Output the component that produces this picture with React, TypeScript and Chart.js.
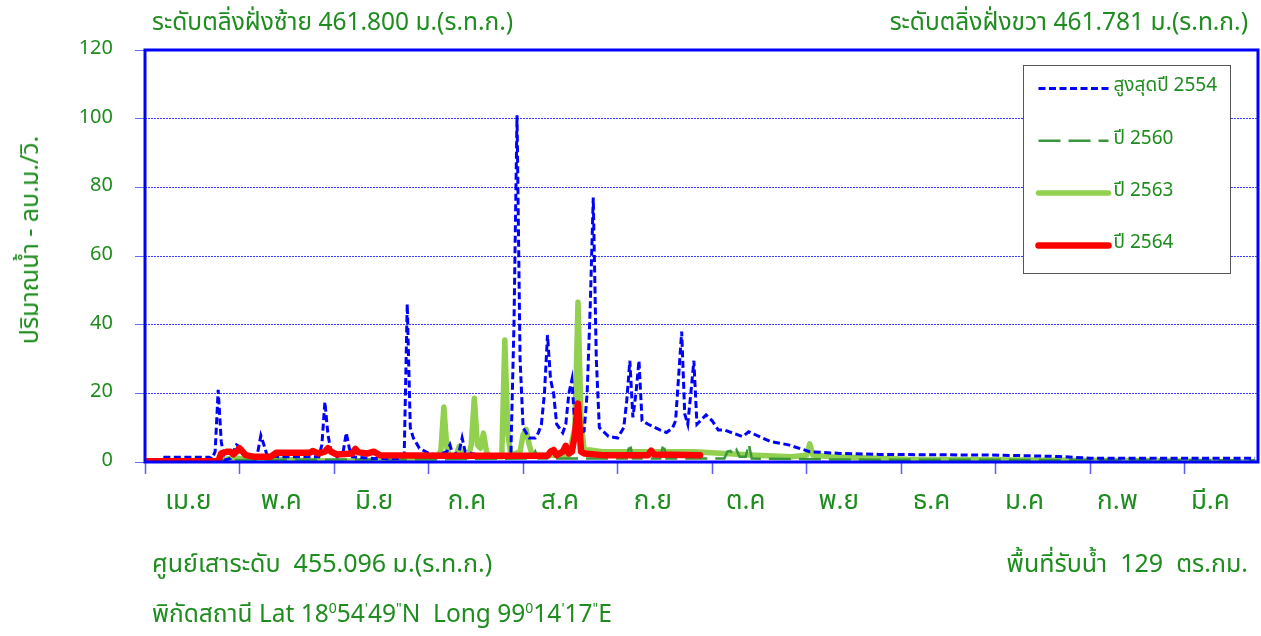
import React, { useEffect, useRef } from "react";
import { Chart, registerables } from "chart.js";

Chart.register(...registerables);

// ---------- data ----------
const monthLabels = ["เม.ย", "พ.ค", "มิ.ย", "ก.ค", "ส.ค", "ก.ย", "ต.ค", "พ.ย", "ธ.ค", "ม.ค", "ก.พ", "มี.ค"];
const yTickValues = [0, 20, 40, 60, 80, 100, 120];
const seriesLabels = ["สูงสุดปี 2554", "ปี 2560", "ปี 2563", "ปี 2564"];

// day index from 1 April (0 .. 364), flow in m3/s
const max2554Day = [0, 5, 6, 21, 22, 23, 24, 25, 26, 28, 29, 30, 31, 32, 34, 36, 37, 38, 39, 40, 44, 50, 57, 58, 59, 60, 61, 63, 65, 66, 67, 68, 75, 84, 85, 86, 87, 88, 90, 93, 96, 99, 100, 101, 103, 104, 105, 107, 110, 119, 120, 121, 122, 123, 124, 126, 128, 129, 130, 131, 132, 133, 134, 135, 137, 138, 139, 140, 141, 142, 144, 145, 146, 147, 148, 149, 152, 155, 157, 158, 159, 160, 161, 162, 163, 165, 169, 171, 173, 174, 175, 176, 177, 178, 179, 180, 181, 184, 186, 188, 190, 196, 198, 205, 211, 218, 228, 241, 280, 300, 310, 364];
const max2554Flow = [0, 0, 1.4, 1.4, 1, 3, 21, 6, 0.5, 1, 3, 5, 4.5, 3, 2, 1, 3, 7.7, 5, 2, 1.5, 1.5, 1.5, 5, 17.5, 8, 3, 1.5, 3, 8.5, 4, 1.5, 1, 1, 2, 46, 10, 7, 4, 2.5, 2, 3, 5, 2, 3, 7, 3, 2.5, 2, 2, 3, 40, 101, 30, 10, 7, 7, 8.5, 11, 20, 37, 24, 20, 11, 8.5, 11, 20, 24, 10, 8, 9, 20, 45, 77, 30, 10, 7.5, 7, 10, 18, 29.5, 13, 20, 29.5, 12, 11, 9.3, 8.6, 9.9, 12, 25, 38, 14, 11, 20, 29.5, 11, 13.7, 12, 9.3, 9.3, 7.4, 8.8, 6, 5, 3, 2.5, 2.2, 2, 1.6, 1.1, 1.1];

const y2560Day = [0, 100, 127, 128, 129, 158, 159, 160, 169, 170, 171, 190, 191, 192, 193, 194, 195, 197, 198, 199, 230, 364];
const y2560Flow = [0.5, 0.8, 1, 3, 1, 1, 5.5, 1, 1, 5.5, 1, 1, 3, 3.2, 2, 3.5, 1.5, 1.5, 5.3, 1, 0.7, 0.5];

const y2563Day = [0, 22, 25, 28, 40, 50, 60, 80, 90, 95, 97, 98, 99, 100, 102, 103, 104, 106, 107, 108, 109, 110, 111, 112, 113, 117, 118, 119, 120, 123, 124, 125, 126, 127, 139, 141, 142, 143, 144, 146, 150, 180, 200, 212, 217, 218, 219, 225, 250, 300, 340, 364];
const y2563Flow = [0, 0, 0.5, 1, 1, 0.5, 0.3, 0.3, 0.8, 1, 3, 16, 4, 1.5, 2, 4.5, 2, 1.5, 5, 18.6, 5, 4, 8.4, 3, 1.5, 1.5, 35.5, 8, 2, 3, 8, 9.5, 5, 2, 2, 10, 46.5, 12, 3.5, 3.5, 3, 3, 2, 1.5, 2, 5.3, 2, 1.5, 0.8, 0.5, 0.3, 0];

const y2564Day = [0, 24, 25, 27, 28, 29, 30, 31, 32, 33, 36, 41, 42, 43, 54, 55, 57, 59, 60, 61, 63, 68, 69, 70, 73, 75, 77, 100, 132, 133, 134, 135, 137, 138, 139, 140, 141, 142, 143, 144, 150, 165, 166, 167, 182];
const y2564Flow = [0.2, 0.2, 2.5, 3, 3, 2.2, 3, 4, 3, 2, 1.5, 1.5, 2, 2.7, 2.7, 3.2, 2.5, 3, 4, 3, 2.2, 2.5, 3.8, 2.8, 2.5, 3, 2, 1.8, 1.8, 3, 3.5, 2, 3, 4.7, 2.5, 3, 8, 17, 3, 2.5, 2, 2, 3.3, 2.2, 2];

const daysInYear = 365;
const monthTickStep = 31;
const labelStart = 14.2;
const labelStep = 30.47;

// ---------- styling ----------
const GREEN_TEXT = "#1e8c1e";
const FONT = "Tahoma, 'Leelawadee UI', 'Noto Sans Thai', 'Noto Sans', 'DejaVu Sans', sans-serif";

const toPoints = (days: number[], vals: number[]) => days.map((d, i) => ({ x: d, y: vals[i] }));

const framePlugin = {
  id: "frameAndLegend",
  afterDraw(chart: any) {
    const { ctx, chartArea } = chart;
    ctx.save();
    // plot frame
    ctx.strokeStyle = "#0000ff";
    ctx.lineWidth = 3;
    ctx.setLineDash([]);
    ctx.strokeRect(chartArea.left, chartArea.top, chartArea.right - chartArea.left, chartArea.bottom - chartArea.top);

    // legend box
    const bw = 207;
    const bh = 208;
    const bx = Math.round(chartArea.right - 235) + 0.5;
    const by = Math.round(chartArea.top + 15) + 0.5;
    ctx.fillStyle = "#ffffff";
    ctx.fillRect(bx, by, bw, bh);
    ctx.strokeStyle = "#555555";
    ctx.lineWidth = 1;
    ctx.strokeRect(bx, by, bw, bh);

    chart.data.datasets.forEach((ds: any, i: number) => {
      const y = by + 23 + i * 52.3;
      ctx.beginPath();
      ctx.setLineDash(ds.borderDash || []);
      ctx.lineCap = ds.borderCapStyle || "butt";
      ctx.lineWidth = ds.borderWidth;
      ctx.strokeStyle = ds.borderColor;
      ctx.moveTo(bx + 15, y);
      ctx.lineTo(bx + 85, y);
      ctx.stroke();
      ctx.setLineDash([]);
      ctx.fillStyle = GREEN_TEXT;
      ctx.font = `19px ${FONT}`;
      ctx.textBaseline = "middle";
      ctx.textAlign = "left";
      ctx.fillText(ds.label, bx + 90, y - 1);
    });
    ctx.restore();
  },
};

export default function App() {
  const canvasRef = useRef<HTMLCanvasElement | null>(null);

  useEffect(() => {
    document.body.style.margin = "0";
    const canvas = canvasRef.current;
    if (!canvas) return;

    const boundaryTicks = Array.from({ length: 12 }, (_, i) => i * monthTickStep);
    const labelTicks = monthLabels.map((_, i) => labelStart + i * labelStep);
    const labelMap = new Map<number, string>();
    labelTicks.forEach((v, i) => labelMap.set(v, monthLabels[i]));
    const boundarySet = new Set<number>(boundaryTicks);

    const chart = new Chart(canvas, {
      type: "line",
      data: {
        datasets: [
          {
            label: seriesLabels[0],
            data: toPoints(max2554Day, max2554Flow),
            borderColor: "#0000ff",
            borderWidth: 3,
            borderDash: [7, 3.5],
            borderCapStyle: "butt",
            order: 1,
          },
          {
            label: seriesLabels[1],
            data: toPoints(y2560Day, y2560Flow),
            borderColor: "#3a963a",
            borderWidth: 2.5,
            borderDash: [22, 8],
            borderCapStyle: "butt",
            order: 2,
          },
          {
            label: seriesLabels[2],
            data: toPoints(y2563Day, y2563Flow),
            borderColor: "#92d050",
            borderWidth: 5.5,
            borderCapStyle: "round",
            borderJoinStyle: "round",
            order: 3,
          },
          {
            label: seriesLabels[3],
            data: toPoints(y2564Day, y2564Flow),
            borderColor: "#ff0000",
            borderWidth: 6.5,
            borderCapStyle: "round",
            borderJoinStyle: "round",
            order: 0,
          },
        ] as any,
      },
      options: {
        animation: false,
        responsive: false,
        maintainAspectRatio: false,
        elements: { point: { radius: 0, hoverRadius: 0 }, line: { tension: 0, fill: false } },
        layout: { padding: { top: 50, right: 3, left: 0, bottom: 0 } },
        plugins: {
          legend: { display: false },
          tooltip: { enabled: false },
        },
        scales: {
          x: {
            type: "linear",
            min: 0,
            max: daysInYear,
            afterBuildTicks: (axis: any) => {
              const all = [...boundaryTicks, ...labelTicks].sort((a, b) => a - b);
              axis.ticks = all.map((v) => ({ value: v }));
            },
            afterFit: (scale: any) => {
              scale.height = 174;
            },
            ticks: {
              autoSkip: false,
              maxRotation: 0,
              minRotation: 0,
              padding: 14,
              color: GREEN_TEXT,
              font: { family: FONT, size: 26 },
              callback: (value: any) => labelMap.get(value as number) ?? "",
            },
            grid: {
              drawOnChartArea: false,
              drawTicks: true,
              tickLength: 12,
              tickWidth: 1.5,
              tickColor: (ctx: any) => (ctx.tick && boundarySet.has(ctx.tick.value) ? "#5a5aff" : "rgba(0,0,0,0)"),
            },
            border: { display: false },
          },
          y: {
            type: "linear",
            min: 0,
            max: 120,
            afterBuildTicks: (axis: any) => {
              axis.ticks = yTickValues.map((v) => ({ value: v }));
            },
            afterFit: (scale: any) => {
              scale.width = 145;
            },
            ticks: {
              padding: 22,
              color: GREEN_TEXT,
              font: { family: FONT, size: 20 },
            },
            grid: {
              color: "#3a3aff",
              lineWidth: 1,
              tickLength: 10,
              tickColor: "#6a6aff",
            },
            border: { display: false, dash: [2, 1] },
          },
        },
      } as any,
      plugins: [framePlugin],
    });

    return () => chart.destroy();
  }, []);

  const textStyle: React.CSSProperties = {
    position: "absolute",
    color: GREEN_TEXT,
    fontFamily: FONT,
    fontSize: 24.5,
    lineHeight: "30px",
    whiteSpace: "nowrap",
  };
  const supStyle: React.CSSProperties = { fontSize: 14, verticalAlign: "9px", lineHeight: 0 };

  return (
    <div style={{ position: "relative", width: 1261, height: 636, background: "#ffffff", overflow: "hidden" }}>
      <canvas ref={canvasRef} width={1261} height={636} style={{ position: "absolute", left: 0, top: 0 }} />
      <div style={{ ...textStyle, left: 152, top: 8 }}>ระดับตลิ่งฝั่งซ้าย 461.800 ม.(ร.ท.ก.)</div>
      <div style={{ ...textStyle, right: 13, top: 8 }}>ระดับตลิ่งฝั่งขวา 461.781 ม.(ร.ท.ก.)</div>
      <div
        style={{
          ...textStyle,
          fontSize: 25,
          left: 30,
          top: 240,
          transform: "translate(-50%, -50%) rotate(-90deg)",
        }}
      >
        ปริมาณน้ำ - ลบ.ม./วิ.
      </div>
      <div style={{ ...textStyle, fontSize: 25, left: 152, top: 549 }}>ศูนย์เสาระดับ&nbsp; 455.096 ม.(ร.ท.ก.)</div>
      <div style={{ ...textStyle, fontSize: 25, right: 13, top: 549 }}>พื้นที่รับน้ำ&nbsp; 129&nbsp; ตร.กม.</div>
      <div style={{ ...textStyle, left: 152, top: 600 }}>
        พิกัดสถานี Lat 18<sup style={supStyle}>0</sup>54<sup style={supStyle}>'</sup>49
        <sup style={supStyle}>"</sup>N&nbsp; Long 99<sup style={supStyle}>0</sup>14
        <sup style={supStyle}>'</sup>17<sup style={supStyle}>"</sup>E
      </div>
    </div>
  );
}
